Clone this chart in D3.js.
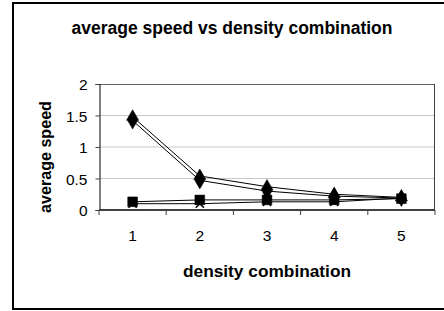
<!DOCTYPE html>
<html><head><meta charset="utf-8">
<script src="https://cdn.jsdelivr.net/npm/d3@7"></script>
<style>
html,body{margin:0;padding:0;background:#fff;}
svg{display:block;font-family:"Liberation Sans",Arial,sans-serif;}
</style></head>
<body><svg id="c" width="444" height="311"></svg>
<script>
const categories = [1, 2, 3, 4, 5];
const yTicks = [0, 0.5, 1, 1.5, 2];
const diamondSeries = [1.42, 0.47, 0.30, 0.22, 0.19];
const triangleSeries = [1.48, 0.54, 0.37, 0.25, 0.20];
const squareSeries = [0.13, 0.16, 0.16, 0.16, 0.18];
const crossSeries = [0.10, 0.10, 0.13, 0.13, 0.19];
const titleText = "average speed vs density combination";
const xTitle = "density combination";
const yTitle = "average speed";

const series = [
  {name: "s1", values: diamondSeries, symbol: d3.symbolDiamond, size: 85},
  {name: "s2", values: triangleSeries, symbol: d3.symbolTriangle, size: 65},
  {name: "s3", values: squareSeries, symbol: d3.symbolSquare, size: 95},
  {name: "s4", values: crossSeries, symbol: d3.symbolX, size: 45}
];

const svg = d3.select("#c");
const L = 99, R = 435, T = 84, B = 210;

svg.append("rect").attr("x", 13).attr("y", 3).attr("width", 440).attr("height", 306)
  .attr("fill", "#fff").attr("stroke", "#000").attr("stroke-width", 2);

const x = d3.scaleBand().domain(categories).range([L, R]).paddingInner(0).paddingOuter(0);
const y = d3.scaleLinear().domain([0, 2]).range([B, T]);
const cx = d => x(d) + x.bandwidth() / 2;

// gridlines
svg.append("g").selectAll("line").data(yTicks.filter(v => v > 0 && v < 2)).join("line")
  .attr("x1", L).attr("x2", R).attr("y1", d => y(d)).attr("y2", d => y(d))
  .attr("stroke", "#c8c8c8").attr("stroke-width", 1);

// plot frame
svg.append("line").attr("x1", L).attr("x2", R).attr("y1", T + 0.5).attr("y2", T + 0.5)
  .attr("stroke", "#606060").attr("stroke-width", 1);
svg.append("line").attr("x1", R - 0.5).attr("x2", R - 0.5).attr("y1", T).attr("y2", B)
  .attr("stroke", "#404040").attr("stroke-width", 1);

// y axis
const yAxis = d3.axisLeft(y).tickValues(yTicks).tickSize(4).tickPadding(8).tickFormat(d3.format("~g"));
const gy = svg.append("g").attr("transform", `translate(${L + 0.5},0)`).call(yAxis);
gy.select(".domain").attr("stroke", "#000");
gy.selectAll(".tick line").attr("stroke", "#404040");
gy.selectAll("text").attr("font-size", 15.5).attr("fill", "#000")
  .attr("font-family", "Liberation Sans, Arial, sans-serif").attr("dy", "0.36em");

// x axis
const xAxis = d3.axisBottom(x).tickSize(0).tickPadding(20);
const gx = svg.append("g").attr("transform", `translate(0,${B})`).call(xAxis);
gx.select(".domain").remove();
gx.selectAll("text").attr("font-size", 15.5).attr("fill", "#000")
  .attr("font-family", "Liberation Sans, Arial, sans-serif");
const bounds = categories.map(c => x(c)).concat([R]);
svg.append("g").selectAll("line").data(bounds).join("line")
  .attr("x1", d => d).attr("x2", d => d).attr("y1", B).attr("y2", B + 5)
  .attr("stroke", "#404040").attr("stroke-width", 1);
svg.append("line").attr("x1", L).attr("x2", R).attr("y1", B).attr("y2", B)
  .attr("stroke", "#404040").attr("stroke-width", 2);

// lines
const line = d3.line().x((d, i) => cx(categories[i])).y(d => y(d));
svg.append("g").selectAll("path").data(series).join("path")
  .attr("d", d => line(d.values)).attr("fill", "none")
  .attr("stroke", "#000").attr("stroke-width", 1);

// markers
series.forEach(s => {
  svg.append("g").selectAll("path").data(s.values).join("path")
    .attr("transform", (d, i) => `translate(${cx(categories[i])},${y(d)})`)
    .attr("d", d3.symbol().type(s.symbol).size(s.size))
    .attr("fill", "#000").attr("stroke", "#000").attr("stroke-width", s.symbol === d3.symbolX ? 1.5 : 0.5);
});

// titles
svg.append("text").attr("x", 232).attr("y", 34).attr("text-anchor", "middle")
  .attr("font-size", 17.5).attr("font-weight", "bold").text(titleText);
svg.append("text").attr("x", 267).attr("y", 277).attr("text-anchor", "middle")
  .attr("font-size", 17.3).attr("font-weight", "bold").text(xTitle);
svg.append("text").attr("transform", "translate(51,157) rotate(-90)").attr("text-anchor", "middle")
  .attr("font-size", 16.1).attr("font-weight", "bold").text(yTitle);
</script>
</body></html>
